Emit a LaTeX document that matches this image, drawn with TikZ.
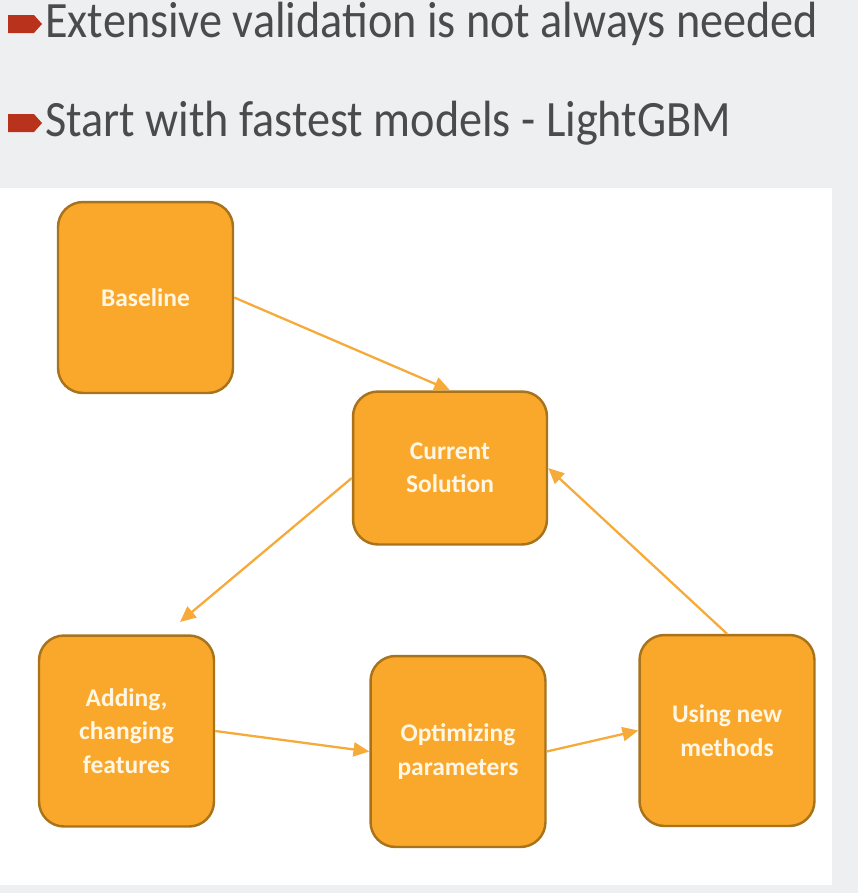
\documentclass[tikz,border=0pt]{standalone}
\usepackage{fontspec}
\setmainfont{Carlito}
\usetikzlibrary{arrows.meta}
\definecolor{slidebg}{HTML}{EEEFF1}
\definecolor{boxfill}{HTML}{F9A82C}
\definecolor{boxline}{HTML}{A8731A}
\definecolor{arrowcol}{HTML}{F6AA3A}
\definecolor{bulletred}{HTML}{B8321C}
\definecolor{headtext}{HTML}{4A4B4D}
\definecolor{boxtext}{HTML}{FFF6E4}
\begin{document}
\begin{tikzpicture}[x=0.02cm,y=-0.02cm,
    stepbox/.style={draw=boxline, line width=1.4pt, fill=boxfill, rounded corners=0.5cm,
        text=boxtext, font=\fontsize{14.5}{19}\selectfont\bfseries, align=center,
        minimum width=3.5cm, minimum height=3.82cm, inner sep=2pt},
    flow/.style={draw=arrowcol, line width=1.3pt, -{Triangle[length=9pt,width=8pt]}},
    headline/.style={anchor=west, text=headtext, font=\fontsize{29}{32}\selectfont,
        inner sep=0pt, xscale=0.907},
    bullet/.style={fill=bulletred}]
\fill[slidebg] (0,0) rectangle (858,893);
\fill[white] (0,188) rectangle (832,885);

\fill[bullet] (8,15) -- (34,15) -- (42,24) -- (34,33) -- (8,33) -- cycle;
\node[headline] (h1) at (45,24) {Extensive validation is not always needed};
\fill[bullet] (8,114) -- (34,114) -- (42,123) -- (34,132) -- (8,132) -- cycle;
\node[headline] (h2) at (45,123) {Start with fastest models - LightGBM};

\node[stepbox] (base) at (145.5,297.5) {Baseline};
\node[stepbox, minimum width=3.88cm, minimum height=3.06cm] (cur) at (450,468) {Current\\Solution};
\node[stepbox] (feat) at (126.5,731) {Adding,\\changing\\features};
\node[stepbox] (opt) at (458,751.5) {Optimizing\\parameters};
\node[stepbox] (new) at (727,730.5) {Using new\\methods};

\coordinate (tipfeat) at (180,622);
\draw[flow] (base.east) -- (cur.north);
\draw[flow] (cur.west) ++(0,10) -- (tipfeat);
\draw[flow] (feat.east) -- (opt.west);
\draw[flow] (opt.east) -- (new.west);
\draw[flow] (new.north) -- (cur.east);
\end{tikzpicture}
\end{document}
